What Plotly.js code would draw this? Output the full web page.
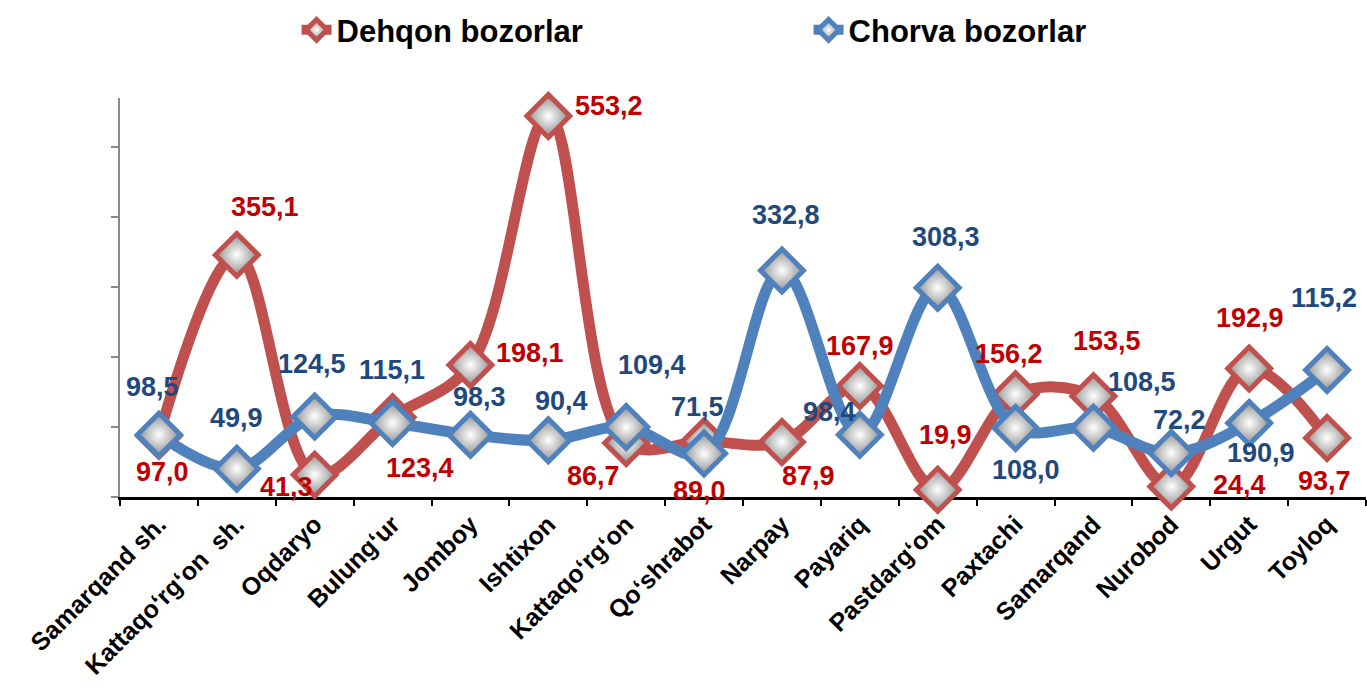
<!DOCTYPE html>
<html><head><meta charset="utf-8">
<script src="https://cdn.plot.ly/plotly-3.0.1.min.js"></script>
<style>html,body{margin:0;padding:0;background:#fff}</style>
</head><body>
<div id="chart" style="width:1367px;height:689px"></div>
<script>
// ---- data ----
const categories = ['Samarqand sh.','Kattaqo‘rg‘on&nbsp; sh.','Oqdaryo','Bulung‘ur','Jomboy','Ishtixon','Kattaqo‘rg‘on','Qo‘shrabot','Narpay','Payariq','Pastdarg‘om','Paxtachi','Samarqand','Nurobod','Urgut','Toyloq'];
const seriesNames = ['Dehqon bozorlar', 'Chorva bozorlar'];
const dehqon = [97.0, 355.1, 41.3, 123.4, 198.1, 553.2, 86.7, 89.0, 87.9, 167.9, 19.9, 156.2, 153.5, 24.4, 192.9, 93.7];
const chorva = [98.5, 49.9, 124.5, 115.1, 98.3, 90.4, 109.4, 71.5, 332.8, 98.4, 308.3, 108.0, 108.5, 72.2, 115.2, 190.9];

// ---- label placement (pixel offsets from each marker: [dx, dy down]) ----
const dehqonLabelOffsets = [[4,36],[28,-48],[-28,12],[27,51],[60,-12],[61,-10],[-33,33],[-5,50],[27,34],[0,-40],[8,-55],[-7,-40],[14,-55],[68,-2],[1,-51],[-3,43]];
const chorvaLabelOffsets = [[-6,-48],[0,-51],[-3,-52],[-1,-53],[9,-38],[13,-39],[26,-62],[-7,-47],[4,-56],[-30,-23],[8,-51],[10,42],[49,-46],[8,-33],[75,-125],[-66,83]];

const RED = '#C0504D', BLUE = '#4F81BD';
const RED_TXT = '#C00000', BLUE_TXT = '#1F497D';
const FONT = 'Liberation Sans, Arial, sans-serif';

function fmt(v){ return v.toFixed(1).replace('.', ','); }

function makeTrace(name, y, color){
  return {
    type: 'scatter', mode: 'lines+markers', name: name,
    x: categories, y: y,
    line: {color: color, width: 11, shape: 'spline', smoothing: 1},
    marker: {symbol: 'diamond', size: 33, color: '#8c8c8c',
             gradient: {type: 'radial', color: '#ffffff'},
             line: {color: color, width: 5}},
    cliponaxis: false,
    hoverinfo: 'x+y'
  };
}

const traces = [
  makeTrace(seriesNames[0], dehqon, RED),
  makeTrace(seriesNames[1], chorva, BLUE)
];

function labels(vals, offs, color){
  return vals.map((v, i) => ({
    x: categories[i], y: v, xref: 'x', yref: 'y',
    text: fmt(v), showarrow: false,
    xanchor: 'center', yanchor: 'middle',
    xshift: offs[i][0], yshift: -offs[i][1],
    font: {family: FONT, size: 27, color: color, weight: 'bold'}
  }));
}

const layout = {
  width: 1367, height: 689,
  margin: {l: 120, r: 1, t: 98, b: 192},
  paper_bgcolor: '#ffffff', plot_bgcolor: '#ffffff',
  showlegend: true,
  legend: {
    orientation: 'h', x: 0.1417, xanchor: 'left', y: 1.17, yanchor: 'middle',
    entrywidth: 467,
    font: {family: FONT, size: 31, color: '#000000', weight: 'bold'},
    bgcolor: 'rgba(0,0,0,0)'
  },
  xaxis: {
    type: 'category', range: [-0.5, 15.5],
    tickson: 'boundaries', ticks: 'outside', ticklen: 6, tickwidth: 2, tickcolor: '#000',
    showline: true, linecolor: '#000', linewidth: 2.5,
    showgrid: false, zeroline: false, layer: 'below traces',
    tickangle: -45, ticklabelstandoff: 0,
    tickfont: {family: FONT, size: 25, color: '#000', weight: 'bold'}
  },
  yaxis: {
    range: [9.55, 579], tick0: 9.55, dtick: 100,
    showticklabels: false, ticks: 'outside', ticklen: 7, tickwidth: 1.5, tickcolor: '#888',
    showline: true, linecolor: '#888', linewidth: 1.5,
    showgrid: false, zeroline: false, layer: 'below traces'
  },
  annotations: labels(dehqon, dehqonLabelOffsets, RED_TXT).concat(labels(chorva, chorvaLabelOffsets, BLUE_TXT))
};

Plotly.newPlot('chart', traces, layout, {displayModeBar: false, responsive: false});
</script>
</body></html>
